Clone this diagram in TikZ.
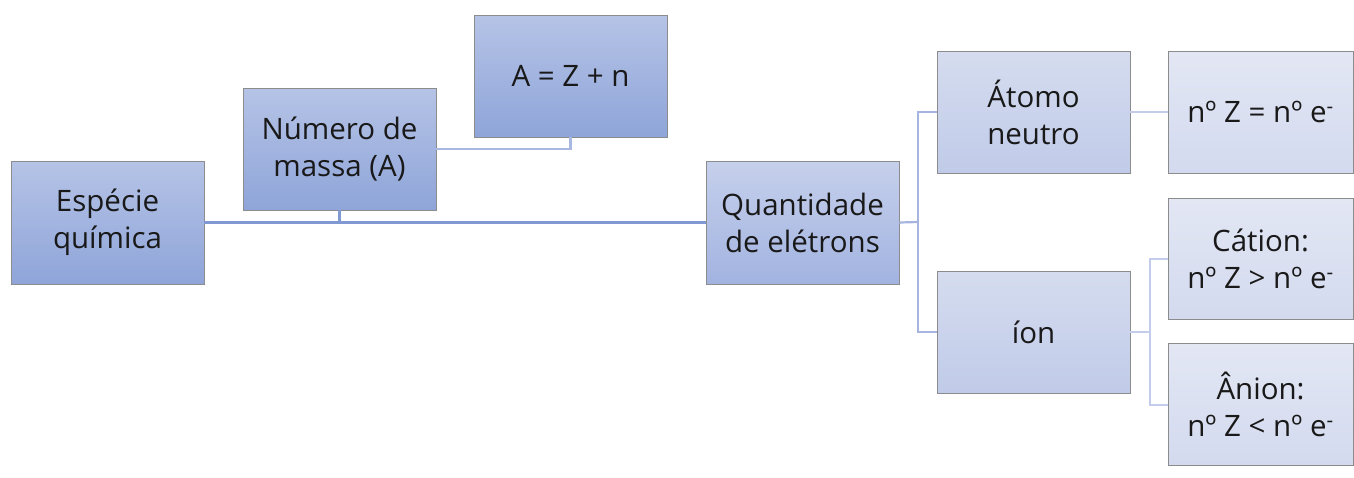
\documentclass[tikz,border=0pt]{standalone}
\usepackage{fontspec}
\setmainfont{Open Sans}
\begin{document}
\begin{tikzpicture}[x=1pt,y=-1pt,
  box/.style={draw=black!45, line width=0.8pt, rectangle, align=center, inner sep=0pt,
     font=\fontsize{29.5}{37}\selectfont, text=black!90},
  lvA/.style={box, top color=boxAt, bottom color=boxAb},
  lvB/.style={box, top color=boxBt, bottom color=boxBb},
  lvC/.style={box, top color=boxCt, bottom color=boxCb},
  lvD/.style={box, top color=boxDt, bottom color=boxDb},
  conA/.style={draw=conA, line width=2.6pt},
  conB/.style={draw=conB, line width=2.4pt},
  conC/.style={draw=conC, line width=2.2pt},
  conD/.style={draw=conD, line width=2pt},
]
\definecolor{boxAt}{HTML}{B5C3E6}
\definecolor{boxAb}{HTML}{8FA5D9}
\definecolor{boxBt}{HTML}{C6D0EC}
\definecolor{boxBb}{HTML}{A2B3E0}
\definecolor{boxCt}{HTML}{D5DCEF}
\definecolor{boxCb}{HTML}{C0CBE9}
\definecolor{boxDt}{HTML}{E3E7F4}
\definecolor{boxDb}{HTML}{D3DAEF}
\definecolor{conA}{HTML}{8199D3}
\definecolor{conB}{HTML}{A9B8E0}
\definecolor{conC}{HTML}{A5B5E0}
\definecolor{conD}{HTML}{C3CDEB}
\useasboundingbox (0,0) rectangle (1354,477);
\fill[white] (0,0) rectangle (1354,477);

\node[lvA, minimum width=193pt, minimum height=123pt] (esp) at (107.5,222.5) {Espécie\\química};
\node[lvA, minimum width=193pt, minimum height=122pt] (num) at (339.5,149) {Número de\\massa (A)};
\node[lvA, minimum width=193pt, minimum height=122pt] (aeq) at (570.5,76) {A = Z + n};
\node[lvB, minimum width=193pt, minimum height=123pt] (qua) at (802.5,222.5) {Quantidade\\de elétrons};
\node[lvC, minimum width=193pt, minimum height=122pt] (ato) at (1033.5,112) {Átomo\\neutro};
\node[lvC, minimum width=193pt, minimum height=122pt] (ion) at (1033.5,332) {íon};
\node[lvD, minimum width=185pt, minimum height=122pt] (zeq) at (1260.5,112) {nº Z = nº e\textsuperscript{-}};
\node[lvD, minimum width=185pt, minimum height=121pt] (cat) at (1260.5,258.5) {Cátion:\\nº Z > nº e\textsuperscript{-}};
\node[lvD, minimum width=185pt, minimum height=122pt] (ani) at (1260.5,404.5) {Ânion:\\nº Z < nº e\textsuperscript{-}};

\coordinate (j1) at (num.south |- esp.east);
\draw[conA] (esp.east) -- (qua.west);
\draw[conA] (num.south) -- (j1);

\coordinate (j2) at (aeq.south |- num.east);
\draw[conB] (num.east) -- (j2) -- (aeq.south);

\coordinate (k) at (918,222);
\draw[conC] (qua.east) -- (k);
\draw[conC] (ato.west) -| (k);
\draw[conC] (ion.west) -| (k);

\draw[conD] (ato.east) -- (zeq.west);

\coordinate (m) at (1150,332);
\draw[conD] (ion.east) -- (m);
\draw[conD] (cat.west) -| (m);
\draw[conD] (ani.west) -| (m);
\end{tikzpicture}
\end{document}
